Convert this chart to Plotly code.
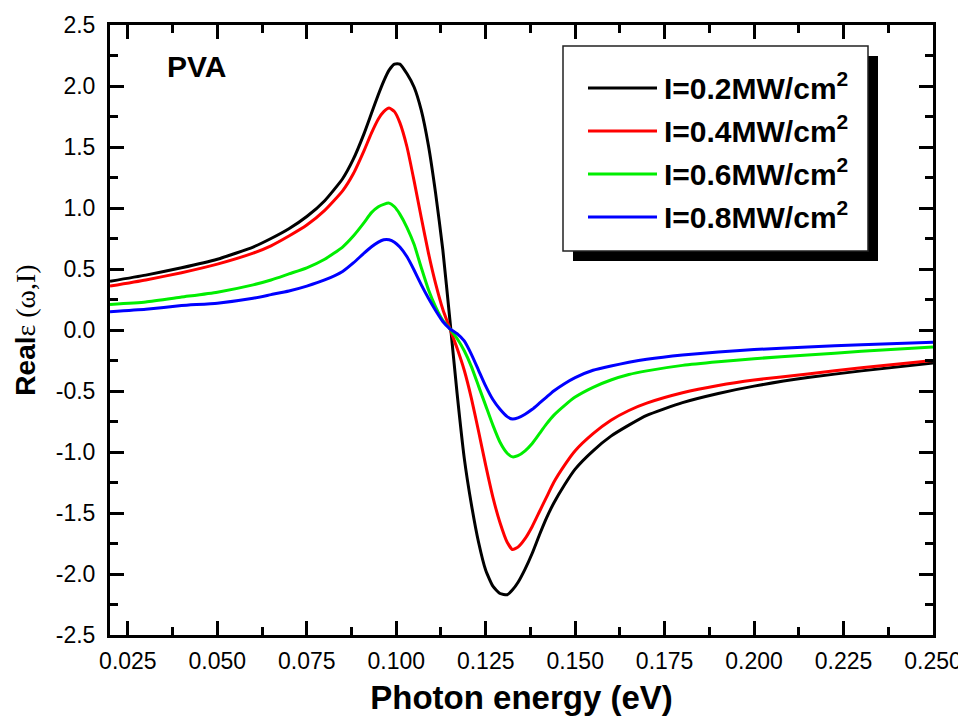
import plotly.graph_objects as go

# ---- data (photon energy in eV, Real eps) ----
energy = [0.020, 0.030, 0.040, 0.050, 0.060, 0.065, 0.070, 0.075, 0.080, 0.085,
          0.088, 0.091, 0.093, 0.095, 0.0965, 0.098, 0.0995, 0.101, 0.103, 0.105,
          0.107, 0.109, 0.111, 0.113, 0.115, 0.117, 0.119, 0.121, 0.123, 0.125,
          0.127, 0.129, 0.131, 0.1325, 0.134, 0.136, 0.138, 0.140, 0.142, 0.144,
          0.147, 0.150, 0.155, 0.160, 0.165, 0.170, 0.180, 0.190, 0.200, 0.215,
          0.230, 0.250]

real_02 = [0.40, 0.45, 0.51, 0.58, 0.68, 0.75, 0.83, 0.93, 1.06, 1.24,
           1.40, 1.61, 1.77, 1.93, 2.04, 2.13, 2.18, 2.18, 2.10, 1.99,
           1.80, 1.51, 1.12, 0.66, 0.08, -0.52, -1.05, -1.43, -1.74, -1.97,
           -2.10, -2.16, -2.17, -2.13, -2.07, -1.96, -1.83, -1.68, -1.54, -1.42,
           -1.27, -1.14, -0.99, -0.87, -0.78, -0.70, -0.595, -0.52, -0.46, -0.39,
           -0.335, -0.27]

real_04 = [0.36, 0.41, 0.47, 0.54, 0.63, 0.69, 0.77, 0.86, 0.98, 1.14,
           1.28, 1.47, 1.61, 1.73, 1.79, 1.82, 1.79, 1.70, 1.50, 1.22,
           0.92, 0.63, 0.38, 0.17, 0.01, -0.15, -0.33, -0.56, -0.83, -1.11,
           -1.37, -1.58, -1.74, -1.80, -1.78, -1.71, -1.61, -1.49, -1.37, -1.25,
           -1.11, -0.99, -0.85, -0.74, -0.66, -0.60, -0.515, -0.455, -0.41, -0.36,
           -0.31, -0.25]

real_06 = [0.21, 0.23, 0.27, 0.31, 0.37, 0.41, 0.46, 0.51, 0.58, 0.68,
           0.77, 0.88, 0.96, 1.01, 1.03, 1.04, 1.01, 0.95, 0.84, 0.70,
           0.51, 0.33, 0.19, 0.08, 0.01, -0.07, -0.17, -0.30, -0.46, -0.62,
           -0.78, -0.92, -1.01, -1.04, -1.03, -0.99, -0.93, -0.85, -0.77, -0.70,
           -0.62, -0.55, -0.47, -0.41, -0.365, -0.335, -0.29, -0.26, -0.235, -0.205,
           -0.175, -0.14]

real_08 = [0.15, 0.17, 0.20, 0.22, 0.26, 0.29, 0.32, 0.36, 0.41, 0.48,
           0.55, 0.63, 0.68, 0.72, 0.74, 0.74, 0.72, 0.68, 0.60, 0.49,
           0.37, 0.26, 0.16, 0.07, 0.01, -0.03, -0.09, -0.20, -0.33, -0.46,
           -0.57, -0.65, -0.71, -0.73, -0.72, -0.69, -0.65, -0.60, -0.55, -0.50,
           -0.44, -0.39, -0.33, -0.295, -0.265, -0.24, -0.205, -0.18, -0.16, -0.14,
           -0.12, -0.10]

series_names = ["I=0.2MW/cm<sup>2</sup>", "I=0.4MW/cm<sup>2</sup>",
                "I=0.6MW/cm<sup>2</sup>", "I=0.8MW/cm<sup>2</sup>"]
series_colors = ["#000000", "#ff0000", "#00ee00", "#0000ff"]

x_tick_vals = [0.025, 0.050, 0.075, 0.100, 0.125, 0.150, 0.175, 0.200, 0.225, 0.250]
x_tick_text = ["0.025", "0.050", "0.075", "0.100", "0.125", "0.150", "0.175", "0.200", "0.225", "0.250"]
y_tick_vals = [-2.5, -2.0, -1.5, -1.0, -0.5, 0.0, 0.5, 1.0, 1.5, 2.0, 2.5]
y_tick_text = ["-2.5", "-2.0", "-1.5", "-1.0", "-0.5", "0.0", "0.5", "1.0", "1.5", "2.0", "2.5"]

# ---- layout geometry (screen pixels; page body adds an 8px offset) ----
OFF = 8
W, H = 966 - OFF, 718 - OFF
L, R, T, B = 110, 933, 25, 635          # plot area on screen


def px_x(p):
    return (p - L) / (R - L)


def px_y(p):
    return (B - p) / (B - T)


FONT = "Arial, Liberation Sans, sans-serif"

fig = go.Figure()
for ys, nm, col in zip([real_02, real_04, real_06, real_08], series_names, series_colors):
    fig.add_trace(go.Scatter(x=energy, y=ys, mode="lines", name=nm, showlegend=False,
                             line=dict(color=col, width=3, shape="spline", smoothing=0.5)))

axis_common = dict(showline=True, linewidth=3, linecolor="black", mirror="allticks",
                   ticks="inside", ticklen=14, tickwidth=2.5, tickcolor="black",
                   showgrid=False, zeroline=False,
                   tickfont=dict(family=FONT, size=23, color="black"))

fig.update_layout(
    width=W, height=H,
    margin=dict(l=L - OFF, r=W - (R - OFF), t=T - OFF, b=H - (B - OFF), autoexpand=False),
    paper_bgcolor="white", plot_bgcolor="white",
    showlegend=False,
    xaxis=dict(range=[0.02, 0.25], tickmode="array", tickvals=x_tick_vals, ticktext=x_tick_text,
               ticklabelstandoff=3,
               minor=dict(dtick=0.0125, tick0=0.0, ticks="inside", ticklen=8, tickwidth=2.5,
                          tickcolor="black"),
               title=dict(text="<b>Photon energy (eV)</b>", standoff=14,
                          font=dict(family=FONT, size=33, color="black")),
               automargin=False, **axis_common),
    yaxis=dict(range=[-2.5, 2.5], tickmode="array", tickvals=y_tick_vals, ticktext=y_tick_text,
               ticklabelstandoff=7,
               minor=dict(dtick=0.25, tick0=0.0, ticks="inside", ticklen=8, tickwidth=2.5,
                          tickcolor="black"),
               title=dict(text="<b>Real</b><span style='font-family:Liberation Serif, Times New Roman, serif'>ε (ω,I)</span>",
                          standoff=12, font=dict(family=FONT, size=28, color="black")),
               automargin=False, **axis_common),
)

# PVA label
fig.add_annotation(x=px_x(165), y=px_y(66), xref="paper", yref="paper", text="<b>PVA</b>",
                   showarrow=False, xanchor="left", yanchor="middle",
                   font=dict(family=FONT, size=30, color="black"))

# legend box with shadow
box = (563, 46, 868, 251)
sh = 10
fig.add_shape(type="rect", xref="paper", yref="paper", layer="above",
              x0=px_x(box[0] + sh), x1=px_x(box[2] + sh), y0=px_y(box[1] + sh), y1=px_y(box[3] + sh),
              fillcolor="black", line=dict(width=0))
fig.add_shape(type="rect", xref="paper", yref="paper", layer="above",
              x0=px_x(box[0]), x1=px_x(box[2]), y0=px_y(box[1]), y1=px_y(box[3]),
              fillcolor="white", line=dict(color="#222222", width=1.5))
rows = [88, 131, 174, 217]
for ry, nm, col in zip(rows, series_names, series_colors):
    fig.add_shape(type="line", xref="paper", yref="paper", layer="above",
                  x0=px_x(588), x1=px_x(657), y0=px_y(ry), y1=px_y(ry),
                  line=dict(color=col, width=3))
    fig.add_annotation(x=px_x(662), y=px_y(ry - 2), xref="paper", yref="paper",
                       text="<b>" + nm + "</b>", showarrow=False,
                       xanchor="left", yanchor="middle",
                       font=dict(family=FONT, size=30, color="black"))

fig.write_html("out.html")
